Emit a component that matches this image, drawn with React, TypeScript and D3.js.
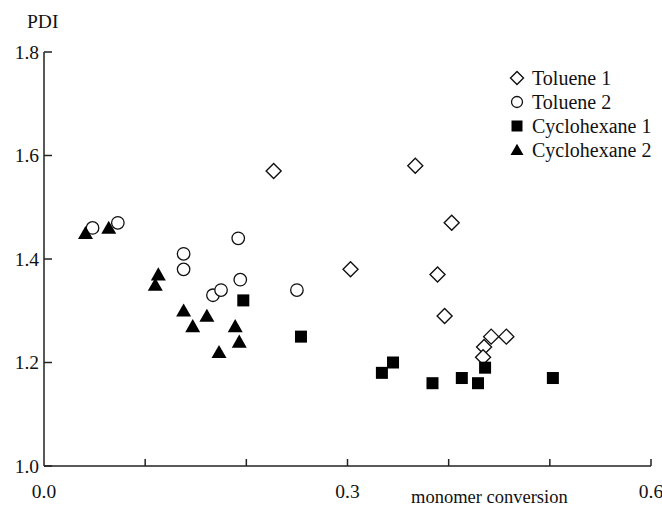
import React from "react";
import * as d3 from "d3";

// PDI vs monomer conversion for the four solvent runs
const toluene1X = [0.227, 0.367, 0.403, 0.303, 0.389, 0.396, 0.442, 0.457, 0.435, 0.434];
const toluene1Y = [1.57, 1.58, 1.47, 1.38, 1.37, 1.29, 1.25, 1.25, 1.23, 1.21];

const toluene2X = [0.048, 0.073, 0.138, 0.138, 0.192, 0.194, 0.167, 0.175, 0.25];
const toluene2Y = [1.46, 1.47, 1.41, 1.38, 1.44, 1.36, 1.33, 1.34, 1.34];

const cyclohexane1X = [0.197, 0.254, 0.345, 0.334, 0.384, 0.413, 0.429, 0.436, 0.503];
const cyclohexane1Y = [1.32, 1.25, 1.2, 1.18, 1.16, 1.17, 1.16, 1.19, 1.17];

const cyclohexane2X = [0.041, 0.064, 0.113, 0.11, 0.138, 0.147, 0.161, 0.189, 0.193, 0.173];
const cyclohexane2Y = [1.45, 1.46, 1.37, 1.35, 1.3, 1.27, 1.29, 1.27, 1.24, 1.22];

const xTicks = [0, 0.1, 0.2, 0.3, 0.4, 0.5, 0.6];
const xTickLabels = ["0.0", "", "", "0.3", "", "", "0.6"];
const yTicks = [1.0, 1.2, 1.4, 1.6, 1.8];
const yTickLabels = ["1.0", "1.2", "1.4", "1.6", "1.8"];

const seriesNames = ["Toluene 1", "Toluene 2", "Cyclohexane 1", "Cyclohexane 2"];

const W = 662;
const H = 506;

type Kind = "diamond" | "circle" | "square" | "triangle";

function Label(props: {
  x: number;
  y: number;
  anchor?: "start" | "middle" | "end";
  dy?: string;
  size?: number;
  children: React.ReactNode;
}) {
  return (
    <text
      x={props.x}
      y={props.y}
      dy={props.dy}
      textAnchor={props.anchor || "start"}
      fontFamily="Liberation Serif"
      fontSize={props.size || 19.5}
      fill="#111"
    >
      {props.children}
    </text>
  );
}

function Marker({ kind, x, y, s }: { kind: Kind; x: number; y: number; s: number }) {
  const stroke = "#111";
  if (kind === "diamond") {
    const r = s / 2;
    return (
      <path
        d={`M${x},${y - r}L${x + r},${y}L${x},${y + r}L${x - r},${y}Z`}
        fill="#fff"
        stroke={stroke}
        strokeWidth={1.4}
      />
    );
  }
  if (kind === "circle") {
    return <circle cx={x} cy={y} r={s / 2} fill="#fff" stroke={stroke} strokeWidth={1.3} />;
  }
  if (kind === "square") {
    return <rect x={x - s / 2} y={y - s / 2} width={s} height={s} fill="#000" />;
  }
  const h = s * 0.87;
  return (
    <path
      d={`M${x},${y - h * 0.55}L${x + s / 2},${y + h * 0.45}L${x - s / 2},${y + h * 0.45}Z`}
      fill="#000"
    />
  );
}

export default function App() {
  const x = d3.scaleLinear().domain([0, 0.6]).range([44, 651]);
  const y = d3.scaleLinear().domain([1.0, 1.8]).range([466, 52]);

  const series: { kind: Kind; xs: number[]; ys: number[]; size: number; legendSize: number }[] = [
    { kind: "diamond", xs: toluene1X, ys: toluene1Y, size: 15, legendSize: 13 },
    { kind: "circle", xs: toluene2X, ys: toluene2Y, size: 12.5, legendSize: 11 },
    { kind: "square", xs: cyclohexane1X, ys: cyclohexane1Y, size: 12, legendSize: 11 },
    { kind: "triangle", xs: cyclohexane2X, ys: cyclohexane2Y, size: 15, legendSize: 13 },
  ];

  const axisColor = "#222";

  return (
    <svg width={W} height={H} style={{ position: "absolute", left: 0, top: 0, background: "#fff" }}>
      <rect width={W} height={H} fill="#fff" />

      {/* axes */}
      <line x1={x(0)} x2={x(0)} y1={y(1.8)} y2={y(1.0)} stroke={axisColor} strokeWidth={1.5} />
      <line x1={x(0)} x2={x(0.6)} y1={y(1.0)} y2={y(1.0)} stroke={axisColor} strokeWidth={1.5} />

      {yTicks.map((t, i) => (
        <g key={"yt" + i}>
          <line x1={x(0)} x2={x(0) + 8} y1={y(t)} y2={y(t)} stroke={axisColor} strokeWidth={1.5} />
          <Label x={39} y={y(t)} dy="0.35em" anchor="end">
            {yTickLabels[i]}
          </Label>
        </g>
      ))}

      {xTicks.map((t, i) => (
        <g key={"xt" + i}>
          {i > 0 && (
            <line x1={x(t)} x2={x(t)} y1={y(1.0)} y2={y(1.0) - 7} stroke={axisColor} strokeWidth={1.5} />
          )}
          {xTickLabels[i] && (
            <Label x={x(t)} y={498} anchor="middle">
              {xTickLabels[i]}
            </Label>
          )}
        </g>
      ))}

      <Label x={27} y={28}>PDI</Label>
      <Label x={411} y={503} size={18.5}>monomer conversion</Label>

      {/* data points */}
      {series.map((s, si) =>
        s.xs.map((xv, i) => (
          <Marker key={`p${si}-${i}`} kind={s.kind} x={x(xv)} y={y(s.ys[i])} s={s.size} />
        ))
      )}

      {/* legend */}
      {series.map((s, i) => (
        <g key={"lg" + i}>
          <Marker kind={s.kind} x={517} y={78 + i * 24} s={s.legendSize} />
          <Label x={532} y={78 + i * 24} dy="0.35em" size={20}>
            {seriesNames[i]}
          </Label>
        </g>
      ))}
    </svg>
  );
}
